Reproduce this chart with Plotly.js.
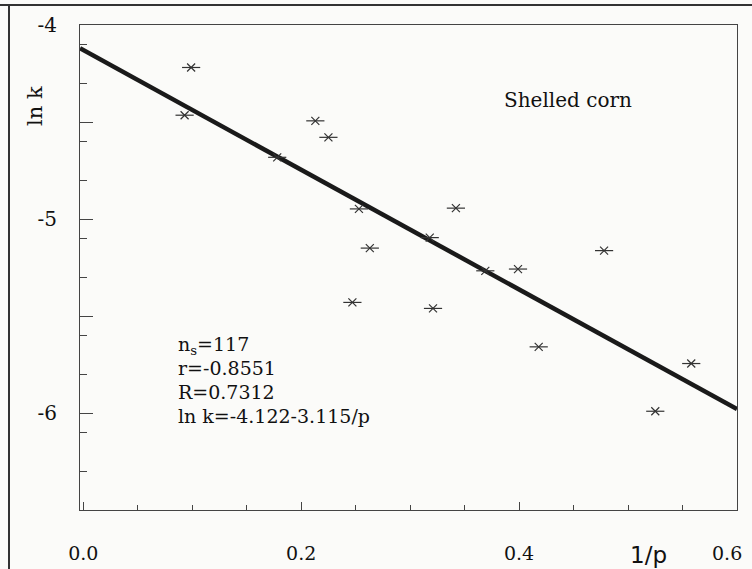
<!DOCTYPE html>
<html>
<head>
<meta charset="utf-8">
<script src="https://cdn.plot.ly/plotly-3.0.1.min.js"></script>
<style>html,body{margin:0;padding:0;background:#fbfbf9;}#chart{width:752px;height:569px;}</style>
</head>
<body>
<div id="chart"></div>
<script>
// 1/p values of the measured points
const invP = [0.093, 0.099, 0.178, 0.213, 0.225, 0.253, 0.263, 0.247, 0.318, 0.321, 0.342, 0.369, 0.399, 0.418, 0.478, 0.525, 0.558];
// ln k values of the measured points
const lnK  = [-4.465, -4.219, -4.682, -4.494, -4.579, -4.948, -5.150, -5.430, -5.096, -5.461, -4.944, -5.267, -5.258, -5.659, -5.163, -5.991, -5.745];
// regression line end points
const fitX = [-0.003, 0.600];
const fitY = [-4.12, -5.98];
// axis ticks
const xTickVals = [0, 0.2, 0.4];
const xTickText = ['0.0', '0.2', '0.4'];
const xEdgeTick = [0.6];
const xLastLabel = '0.6';
const yTickVals = [-4, -5, -6];
const yTickText = ['-4', '-5', '-6'];
const yHalfTicks = [-4.5, -5.5];
const yMinorVals = [-4.1, -4.3, -4.6, -4.8, -5.1, -5.3, -5.6, -5.8, -6.1, -6.3];
// texts
const titleText = 'Shelled corn';
const statLines = ['n<sub>s</sub>=117', 'r=-0.8551', 'R=0.7312', 'ln k=-4.122-3.115/p'];

const ink = '#111';
const serif = 'DejaVu Serif, serif';
const xRange = [-0.003, 0.6];
const yRange = [-6.5, -4];

const traces = [
  {x: fitX, y: fitY, mode: 'lines', line: {color: '#1a1a1a', width: 4.5}, hoverinfo: 'skip'},
  {x: invP, y: lnK, mode: 'markers', marker: {symbol: 'x-thin-open', size: 8, color: '#333', line: {color: '#333', width: 1.2}}},
  {x: invP, y: lnK, mode: 'markers', marker: {symbol: 'line-ew-open', size: 13, color: '#333', line: {color: '#333', width: 1.2}}},
  {x: [], y: [], xaxis: 'x2', yaxis: 'y2', mode: 'markers', hoverinfo: 'skip'}
];

const annotations = [
  {xref: 'paper', yref: 'paper', x: (568 - 80) / 657, y: (510 - 100) / 485, text: titleText, showarrow: false,
   font: {family: serif, size: 20, color: ink}, xanchor: 'center', yanchor: 'middle'},
  {xref: 'paper', yref: 'paper', x: (648 - 80) / 657, y: (510 - 555) / 485, text: '1/p', showarrow: false,
   font: {family: 'DejaVu Sans, sans-serif', size: 23, color: ink}, xanchor: 'center', yanchor: 'middle'},
  {xref: 'paper', yref: 'paper', x: (727 - 80) / 657, y: (510 - 553) / 485, text: xLastLabel, showarrow: false,
   font: {family: serif, size: 19, color: ink}, xanchor: 'center', yanchor: 'middle'},
  {xref: 'paper', yref: 'paper', x: (35 - 80) / 657, y: (510 - 106) / 485, text: 'ln k', showarrow: false, textangle: -90,
   font: {family: serif, size: 21, color: ink}, xanchor: 'center', yanchor: 'middle'}
];
statLines.forEach((t, i) => {
  annotations.push({xref: 'paper', yref: 'paper', x: (176 - 80) / 657, y: (510 - (345 + i * 23.5)) / 485, text: t,
    showarrow: false, font: {family: serif, size: 19, color: ink}, xanchor: 'left', yanchor: 'middle'});
});

const layout = {
  width: 752, height: 569,
  margin: {l: 80, r: 15, t: 25, b: 59},
  paper_bgcolor: '#fbfbf9', plot_bgcolor: '#fbfbf9',
  showlegend: false,
  xaxis: {
    range: xRange, tickvals: xTickVals, ticktext: xTickText,
    ticks: 'inside', ticklen: 8, tickwidth: 1, tickcolor: '#444',
    minor: {dtick: 0.05, tick0: 0, ticks: 'inside', ticklen: 5, tickwidth: 1, tickcolor: '#444'},
    showline: true, mirror: true, linecolor: '#444', linewidth: 1,
    showgrid: false, zeroline: false,
    ticklabelstandoff: 26,
    tickfont: {family: serif, size: 19, color: ink}
  },
  yaxis: {
    range: yRange, tickvals: yTickVals, ticktext: yTickText,
    ticks: 'inside', ticklen: 13, tickwidth: 1, tickcolor: '#444',
    minor: {tickmode: 'array', tickvals: yMinorVals, ticks: 'inside', ticklen: 7, tickwidth: 1, tickcolor: '#444'},
    showline: true, mirror: true, linecolor: '#444', linewidth: 1,
    showgrid: false, zeroline: false,
    ticklabelstandoff: 18,
    tickfont: {family: serif, size: 20, color: ink}
  },
  xaxis2: {
    overlaying: 'x', anchor: 'y2', side: 'bottom', range: xRange, tickvals: xEdgeTick,
    ticks: 'inside', ticklen: 8, tickwidth: 1, tickcolor: '#444',
    showticklabels: false, showline: false, showgrid: false, zeroline: false
  },
  yaxis2: {
    overlaying: 'y', anchor: 'x2', side: 'left', range: yRange, tickvals: yHalfTicks,
    ticks: 'inside', ticklen: 13, tickwidth: 1, tickcolor: '#444',
    showticklabels: false, showline: false, showgrid: false, zeroline: false
  },
  annotations: annotations,
  shapes: [
    {type: 'line', xref: 'paper', yref: 'paper', x0: -80 / 657, x1: 672 / 657, y0: (510 - 5) / 485, y1: (510 - 5) / 485,
     line: {color: '#333', width: 2}},
    {type: 'line', xref: 'paper', yref: 'paper', x0: (9 - 80) / 657, x1: (9 - 80) / 657, y0: (510 - 5) / 485, y1: -59 / 485,
     line: {color: '#333', width: 2}}
  ]
};

Plotly.newPlot('chart', traces, layout, {displayModeBar: false, staticPlot: true});
</script>
</body>
</html>
